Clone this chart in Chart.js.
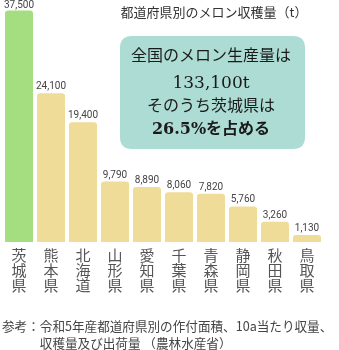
<!DOCTYPE html>
<html>
<head>
<meta charset="utf-8">
<script src="https://cdn.jsdelivr.net/npm/chart.js@4"></script>
<style>
html,body{margin:0;padding:0;background:#fff;}
#wrap{width:339px;height:350px;position:relative;}
</style>
</head>
<body>
<div id="wrap"><canvas id="c" width="339" height="350"></canvas></div>
<script>
const prefectures = ["茨城県","熊本県","北海道","山形県","愛知県","千葉県","青森県","静岡県","秋田県","鳥取県"];
const harvest = [37500,24100,19400,9790,8890,8060,7820,5760,3260,1130];
const highlight = "茨城県";
const titleText = "都道府県別のメロン収穫量（t）";
const boxLines = ["全国のメロン生産量は","133,100t","そのうち茨城県は","26.5%を占める"];
const sourceLines = ["参考：令和5年産都道府県別の作付面積、10a当たり収量、","　　　収穫量及び出荷量 （農林水産省）"];

const JP = '"Noto Sans CJK JP", "Noto Sans", sans-serif';
const SERIF = '"DejaVu Serif", "Noto Sans CJK JP", serif';

function roundRect(ctx,x,y,w,h,r){
  ctx.beginPath();
  ctx.moveTo(x+r,y);
  ctx.lineTo(x+w-r,y);ctx.quadraticCurveTo(x+w,y,x+w,y+r);
  ctx.lineTo(x+w,y+h-r);ctx.quadraticCurveTo(x+w,y+h,x+w-r,y+h);
  ctx.lineTo(x+r,y+h);ctx.quadraticCurveTo(x,y+h,x,y+h-r);
  ctx.lineTo(x,y+r);ctx.quadraticCurveTo(x,y,x+r,y);
  ctx.closePath();
}

const overlay = {
  id:'overlay',
  afterDatasetsDraw(chart){
    const ctx = chart.ctx;
    const meta = chart.getDatasetMeta(0);
    ctx.save();
    // value labels
    ctx.font = '10px Roboto, "Noto Sans", sans-serif';
    ctx.fillStyle = '#444';
    ctx.textAlign = 'center';
    ctx.textBaseline = 'alphabetic';
    meta.data.forEach((bar,i)=>{
      ctx.fillText(harvest[i].toLocaleString('en-US'), bar.x, Math.max(bar.y - 4, 8));
    });
    // title
    ctx.font = '13px ' + JP;
    ctx.fillStyle = '#333';
    ctx.textAlign = 'center';
    ctx.textBaseline = 'middle';
    ctx.fillText(titleText, 214, 12);
    // info box
    ctx.fillStyle = '#acdcd3';
    roundRect(ctx,120,36,185,113,12);
    ctx.fill();
    ctx.fillStyle = '#1a1a1a';
    const ys = [57,84,107,130];
    const sizes = [16,17,16,16];
    boxLines.forEach((t,i)=>{
      ctx.font = (i===3?'bold ':'') + sizes[i] + 'px ' + SERIF;
      ctx.fillText(t, 211, ys[i]);
    });
    // source
    ctx.font = '12.6px ' + JP;
    ctx.fillStyle = '#444';
    ctx.textAlign = 'left';
    ctx.fillText(sourceLines[0], 2, 326);
    ctx.fillText(sourceLines[1], 2, 343);
    ctx.restore();
  }
};

new Chart(document.getElementById('c'), {
  type:'bar',
  data:{
    labels: prefectures.map(p => p.split('')),
    datasets:[{
      data: harvest,
      backgroundColor: prefectures.map(p => p===highlight ? '#a4de80' : '#efdc98'),
      borderRadius: 3,
      borderSkipped: 'start',
      categoryPercentage: 0.875,
      barPercentage: 1
    }]
  },
  options:{
    responsive:false,
    animation:false,
    layout:{padding:{left:3,right:16,top:0,bottom:51}},
    plugins:{legend:{display:false},tooltip:{enabled:false},title:{display:false}},
    scales:{
      x:{
        grid:{display:false,drawTicks:false},
        border:{display:false},
        ticks:{font:{size:15,family:JP,lineHeight:1},color:'#555',padding:6,maxRotation:0,autoSkip:false}
      },
      y:{display:false,min:0,max:39200}
    }
  },
  plugins:[overlay]
});
</script>
</body>
</html>
